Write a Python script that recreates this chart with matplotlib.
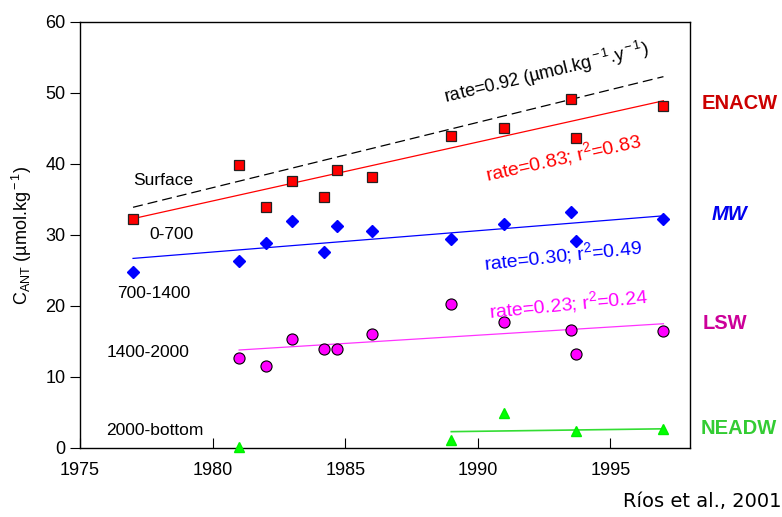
import numpy as np
import matplotlib.pyplot as plt

plt.rcParams['font.family'] = ['Liberation Sans', 'DejaVu Sans']
plt.rcParams['mathtext.fontset'] = 'custom'
plt.rcParams['mathtext.rm'] = 'Liberation Sans'
plt.rcParams['mathtext.it'] = 'Liberation Sans'

# === Data ===
years_enacw = [1977, 1981, 1982, 1983, 1984.2, 1984.7, 1986, 1989, 1991, 1993.5, 1993.7, 1997]
enacw = [32.2, 39.8, 33.9, 37.6, 35.4, 39.1, 38.1, 44.0, 45.1, 49.2, 43.6, 48.1]

years_mw = [1977, 1981, 1982, 1983, 1984.2, 1984.7, 1986, 1989, 1991, 1993.5, 1993.7, 1997]
mw = [24.8, 26.3, 28.9, 32.0, 27.6, 31.2, 30.6, 29.5, 31.5, 33.3, 29.1, 32.3]

years_lsw = [1981, 1982, 1983, 1984.2, 1984.7, 1986, 1989, 1991, 1993.5, 1993.7, 1997]
lsw = [12.7, 11.6, 15.4, 14.0, 14.0, 16.0, 20.3, 17.7, 16.6, 13.3, 16.5]

years_neadw = [1981, 1989, 1991, 1993.7, 1997]
neadw = [0.1, 1.1, 4.9, 2.4, 2.7]

# regression lines (start / end)
fit_surface_x = [1977, 1997]
fit_surface_y = [33.9, 52.3]
fit_enacw_x = [1977, 1997]
fit_enacw_y = [32.3, 48.9]
fit_mw_x = [1977, 1997]
fit_mw_y = [26.7, 32.7]
fit_lsw_x = [1981, 1997]
fit_lsw_y = [13.8, 17.5]
fit_neadw_x = [1989, 1997]
fit_neadw_y = [2.3, 2.7]

fig = plt.figure(figsize=(7.82, 5.17), dpi=100)
ax = fig.add_axes([0.1023, 0.1335, 0.78, 0.824])

ax.plot(fit_surface_x, fit_surface_y, color='black', lw=0.9, ls=(0, (8, 4)))
ax.plot(fit_enacw_x, fit_enacw_y, color='#ff0000', lw=0.9)
ax.plot(fit_mw_x, fit_mw_y, color='#0000ff', lw=0.9)
ax.plot(fit_lsw_x, fit_lsw_y, color='#ff33ff', lw=0.9)
ax.plot(fit_neadw_x, fit_neadw_y, color='#33dd33', lw=1.2)

ax.plot(years_enacw, enacw, 's', color='#ff0000', mec='#222222', mew=0.9, ms=7, zorder=3)
ax.plot(years_mw, mw, 'D', color='#0000ff', mec='#0000ff', ms=6.5, zorder=3)
ax.plot(years_lsw, lsw, 'o', color='#ff00ff', mec='black', mew=0.8, ms=8, zorder=3)
ax.plot(years_neadw, neadw, '^', color='#00ff00', mec='#00ee00', ms=7.5, zorder=3, clip_on=False)

ax.set_xlim(1975, 1998)
ax.set_ylim(0, 60)
ax.set_xticks([1975, 1980, 1985, 1990, 1995])
ax.set_yticks(range(0, 61, 10))
ax.tick_params(axis='x', direction='in', length=7, labelsize=13, pad=10)
ax.tick_params(axis='y', direction='out', length=7, labelsize=13)
for s in ax.spines.values():
    s.set_linewidth(1.0)
ax.set_ylabel(r'C$_{\rm ANT}$ (µmol.kg$^{\rm -1}$)', fontsize=13, labelpad=8)

# depth layer labels
ax.text(1977, 37.7, 'Surface', fontsize=12.5, va='center')
ax.text(1977.6, 30.1, '0-700', fontsize=12.5, va='center')
ax.text(1976.4, 21.8, '700-1400', fontsize=12.5, va='center')
ax.text(1976.0, 13.4, '1400-2000', fontsize=12.5, va='center')
ax.text(1976.0, 2.4, '2000-bottom', fontsize=12.5, va='center')

# rate labels
ax.text(1992.6, 52.9, r'rate=0.92 (µmol.kg$^{\rm -1}$.y$^{\rm -1}$)', fontsize=13,
        rotation=13.5, ha='center', va='center')
ax.text(1993.2, 41.0, r'rate=0.83; r$^{\rm 2}$=0.83', fontsize=14, color='#ff0000',
        rotation=12.5, ha='center', va='center')
ax.text(1993.2, 27.2, r'rate=0.30; r$^{\rm 2}$=0.49', fontsize=14, color='#0000ff',
        rotation=6, ha='center', va='center')
ax.text(1993.4, 20.4, r'rate=0.23; r$^{\rm 2}$=0.24', fontsize=14, color='#ff00ff',
        rotation=5.5, ha='center', va='center')

# water mass labels (right side)
fig.text(0.9465, 0.800, 'ENACW', color='#cc0000', fontsize=14.5, fontweight='bold',
         ha='center', va='center')
fig.text(0.9335, 0.586, 'MW', color='#0000ee', fontsize=14.5, fontweight='bold', style='italic',
         ha='center', va='center')
fig.text(0.927, 0.375, 'LSW', color='#cc0099', fontsize=14.5, fontweight='bold',
         ha='center', va='center')
fig.text(0.9445, 0.172, 'NEADW', color='#33cc33', fontsize=14.5, fontweight='bold',
         ha='center', va='center')

fig.text(0.999, 0.012, 'Ríos et al., 2001', fontsize=14, family='DejaVu Sans',
         ha='right', va='bottom')

fig.savefig('out.png', dpi=100)
